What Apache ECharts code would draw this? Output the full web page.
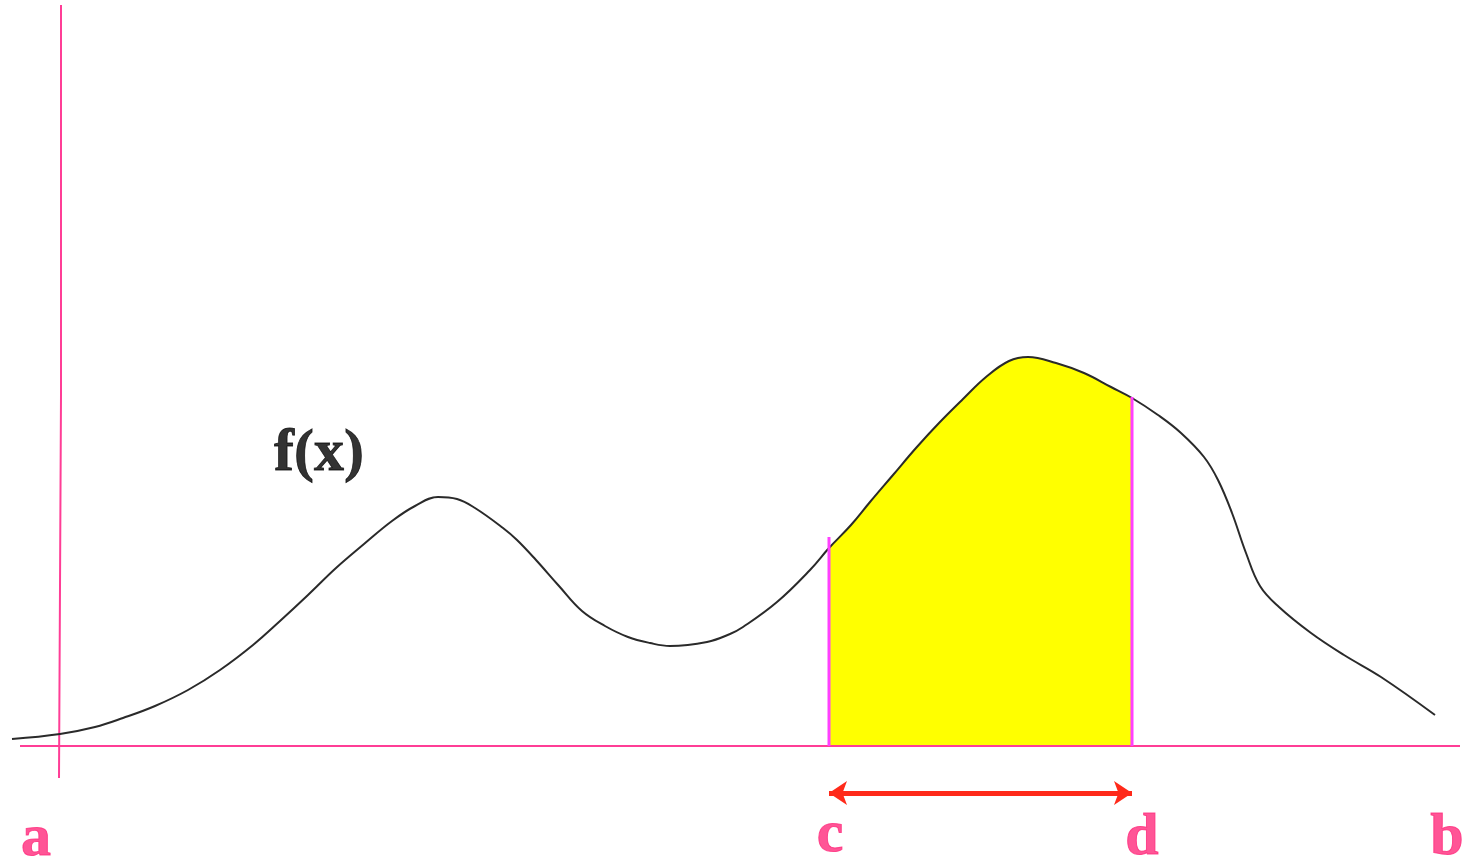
<!DOCTYPE html>
<html>
<head>
<meta charset="utf-8">
<script src="https://cdn.jsdelivr.net/npm/echarts@6/dist/echarts.min.js"></script>
<style>
html,body{margin:0;padding:0;background:#fff;}
#chart{width:1466px;height:860px;}
</style>
</head>
<body>
<div id="chart"></div>
<script>
// Curve f(x): x positions and heights above the horizontal axis
const curveX = [12, 60, 95, 123, 155, 188, 220, 253, 280, 308, 336, 364, 392, 415, 438, 457, 475, 503, 517, 536, 559, 582, 605, 628, 650, 670, 707, 730, 743, 777, 810, 829, 851, 870, 893, 916, 939, 963, 986, 1009, 1028, 1056, 1084, 1111, 1132, 1158, 1181, 1204, 1218, 1232, 1246, 1260, 1279, 1311, 1344, 1381, 1435];
const curveY = [7, 12, 19, 28, 40, 56, 76, 101, 125, 151, 178, 202, 225, 240, 249, 247, 238, 218, 206, 186, 160, 135, 120, 109, 103, 100, 104, 112, 119, 144, 176, 198, 221, 244, 271, 298, 323, 347, 369, 385, 389, 383, 373, 359, 348, 331, 313, 289, 266, 233, 193, 160, 139, 113, 91, 69, 31];
// Interval [c, d]
const intervalX = [829, 1132];
const intervalTop = [209, 349];
// Double arrow under the interval
const arrowY = -47;
// Axis extents
const hAxisX = [20, 1460];
const vAxisX = [61, 59];
const vAxisY = [741, 351, -32];
// Text labels
const labelNames = ['a', 'c', 'd', 'b'];
const labelX = [36, 830, 1142, 1447];
const labelY = [-93, -89, -92, -92];
const funcName = 'f(x)';
const funcPos = [319, 292];

const curveData = curveX.map((x, i) => [x, curveY[i]]);
const shadeData = curveData.filter(p => p[0] >= intervalX[0] && p[0] <= intervalX[1]);

const pink = '#ff3d96';
const magenta = '#ff40ff';
const labelColor = '#ff2a7c';
const serif = '"Liberation Serif", "DejaVu Serif", serif';
const smoothness = 0.4;

const chart = echarts.init(document.getElementById('chart'), null, {renderer: 'canvas'});
chart.setOption({
  animation: false,
  backgroundColor: '#ffffff',
  grid: {left: 0, right: 0, top: 0, bottom: 0, containLabel: false},
  xAxis: {type: 'value', min: 0, max: 1466, show: false},
  yAxis: {type: 'value', min: -114, max: 746, show: false},
  series: [
    {
      type: 'line', data: shadeData, smooth: smoothness, symbol: 'none',
      lineStyle: {width: 0, opacity: 0},
      areaStyle: {color: '#ffff00', opacity: 1},
      z: 1, silent: true
    },
    {
      type: 'line',
      data: [[hAxisX[0], 0], [hAxisX[1], 0]],
      symbol: 'none', lineStyle: {color: pink, width: 2}, z: 2, silent: true
    },
    {
      type: 'line',
      data: [[vAxisX[0], vAxisY[0]], [vAxisX[0], vAxisY[1]], [vAxisX[1], vAxisY[1]], [vAxisX[1], vAxisY[2]]],
      symbol: 'none', lineStyle: {color: pink, width: 2}, z: 2, silent: true
    },
    {
      type: 'line', data: curveData, smooth: smoothness, symbol: 'none',
      lineStyle: {color: '#2a2a2a', width: 2}, z: 3, silent: true
    },
    {
      type: 'line',
      data: [[intervalX[0], 0], [intervalX[0], intervalTop[0]]],
      symbol: 'none', lineStyle: {color: magenta, width: 3}, z: 4, silent: true
    },
    {
      type: 'line',
      data: [[intervalX[1], 0], [intervalX[1], intervalTop[1]]],
      symbol: 'none', lineStyle: {color: magenta, width: 3}, z: 4, silent: true
    },
    {
      type: 'scatter', data: [], z: 5, silent: true,
      markLine: {
        silent: true,
        symbol: ['arrow', 'arrow'],
        symbolSize: [18, 18],
        lineStyle: {color: '#ff2a1a', width: 5, type: 'solid'},
        label: {show: false},
        data: [[{coord: [intervalX[0], arrowY]}, {coord: [intervalX[1], arrowY]}]]
      }
    },
    {
      type: 'scatter', symbolSize: 0, z: 6, silent: true,
      data: labelNames.map((n, i) => ({name: n, value: [labelX[i], labelY[i]]})),
      label: {
        show: true, position: 'inside', formatter: '{b}',
        color: labelColor, fontFamily: serif, fontWeight: 'bold', fontSize: 60,
        textBorderColor: labelColor, textBorderWidth: 1
      }
    },
    {
      type: 'scatter', symbolSize: 0, z: 6, silent: true,
      data: [{name: funcName, value: funcPos}],
      label: {
        show: true, position: 'inside', formatter: '{b}',
        color: '#000000', fontFamily: serif, fontWeight: 'bold', fontSize: 60,
        textBorderColor: '#000000', textBorderWidth: 0.8
      }
    }
  ]
});
</script>
</body>
</html>
